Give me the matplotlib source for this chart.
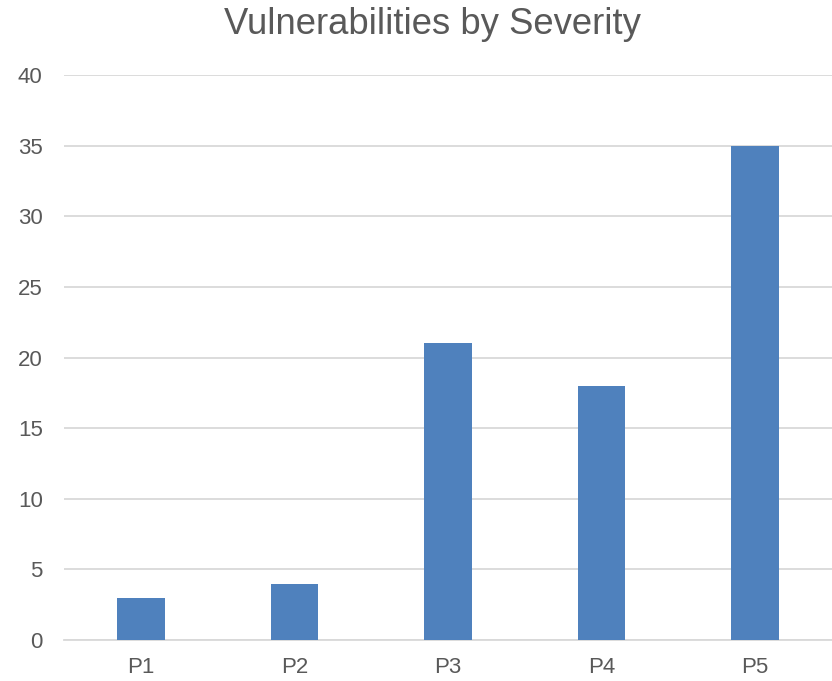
import matplotlib
matplotlib.use("Agg")
import matplotlib.pyplot as plt

categories = ["P1", "P2", "P3", "P4", "P5"]
counts = [3, 4, 21, 18, 35]
y_ticks = [0, 5, 10, 15, 20, 25, 30, 35, 40]

plt.rcParams["font.family"] = ["Liberation Sans", "DejaVu Sans"]

fig = plt.figure(figsize=(8.32, 6.81), dpi=100)
ax = fig.add_axes([64.25 / 832, 1 - 640 / 681, (831.75 - 64.25) / 832, (640 - 75) / 681])

ax.bar(range(len(categories)), counts, width=0.3125, color="#4f81bd", zorder=3)

ax.set_xlim(-0.5, len(categories) - 0.5)
ax.set_ylim(0, 40)
ax.set_yticks(y_ticks)
ax.set_xticks(range(len(categories)))
ax.set_xticklabels(categories)

ax.grid(axis="y", color="#d9d9d9", linewidth=1.3, zorder=0)
for s in ["top", "right", "left"]:
    ax.spines[s].set_visible(False)
ax.spines["bottom"].set_color("#d9d9d9")
ax.spines["bottom"].set_linewidth(1.3)

ax.tick_params(axis="both", length=0, labelsize=16, labelcolor="#595959")
ax.tick_params(axis="y", pad=15.5)
ax.tick_params(axis="x", pad=12)

fig.text(0.52, 1 - 25 / 681, "Vulnerabilities by Severity", ha="center", va="center",
         fontsize=26.3, color="#595959")

fig.savefig("out.png", dpi=100)
